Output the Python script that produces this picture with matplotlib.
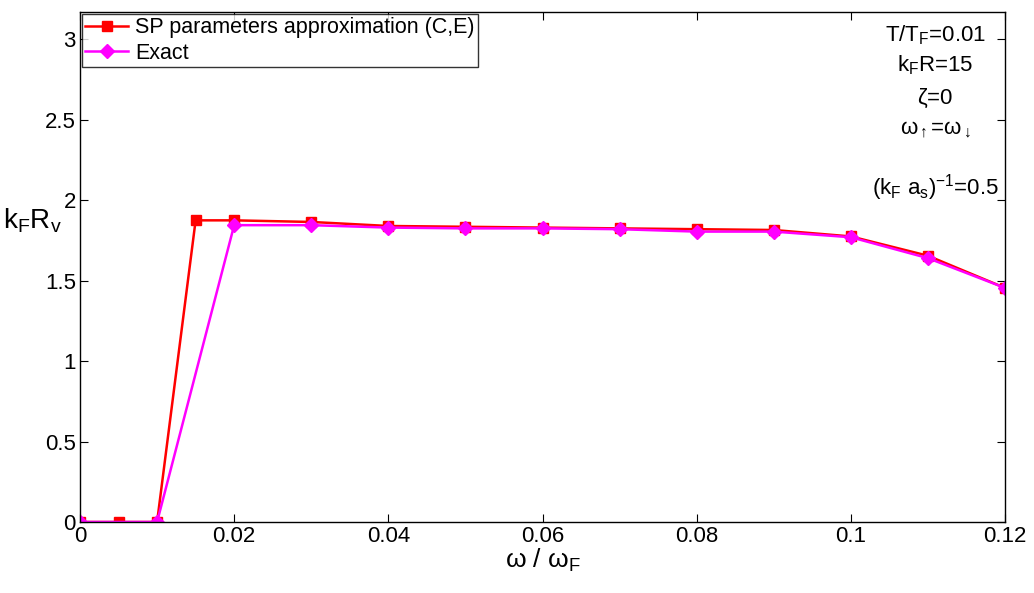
import numpy as np
import matplotlib
matplotlib.use("Agg")
import matplotlib.pyplot as plt

plt.rcParams['font.family'] = ['Liberation Sans', 'DejaVu Sans']
plt.rcParams['mathtext.fontset'] = 'custom'
plt.rcParams['mathtext.rm'] = 'Liberation Sans'
plt.rcParams['mathtext.it'] = 'Liberation Sans'

# ---- data ----
omega_sp = [0, 0.005, 0.01, 0.015, 0.02, 0.03, 0.04, 0.05, 0.06, 0.07, 0.08, 0.09, 0.10, 0.11, 0.12]
kR_sp = [0, 0, 0, 1.875, 1.875, 1.865, 1.84, 1.835, 1.83, 1.825, 1.82, 1.815, 1.775, 1.655, 1.455]

omega_ex = [0, 0.01, 0.02, 0.03, 0.04, 0.05, 0.06, 0.07, 0.08, 0.09, 0.10, 0.11, 0.12]
kR_ex = [0, 0, 1.845, 1.845, 1.83, 1.825, 1.825, 1.82, 1.805, 1.805, 1.77, 1.64, 1.455]

xticks = [0, 0.02, 0.04, 0.06, 0.08, 0.1, 0.12]
xticklabels = ['0', '0.02', '0.04', '0.06', '0.08', '0.1', '0.12']
yticks = [0, 0.5, 1, 1.5, 2, 2.5, 3]
yticklabels = ['0', '0.5', '1', '1.5', '2', '2.5', '3']

fig = plt.figure(figsize=(10.34, 5.93), dpi=100)
ax = fig.add_axes([80 / 1034, 1 - 522 / 593, 925 / 1034, 510 / 593])

ax.plot(omega_sp, kR_sp, color='red', lw=1.8, marker='s', ms=7.5,
        label='SP parameters approximation (C,E)')
ax.plot(omega_ex, kR_ex, color='magenta', lw=1.8, marker='D', ms=7.5,
        label='Exact')

ax.set_xlim(0, 0.12)
ax.set_ylim(0, 3.17)
ax.set_xticks(xticks)
ax.set_xticklabels(xticklabels)
ax.set_yticks(yticks)
ax.set_yticklabels(yticklabels)
ax.tick_params(direction='in', length=6, width=0.8, top=True, right=True,
               labelsize=16, pad=3)
for s in ax.spines.values():
    s.set_linewidth(1.0)

ax.set_xlabel(r'$\omega$ / $\omega_F$', fontsize=19, labelpad=0)
ax.set_ylabel(r'k$_F$R$_v$', fontsize=20, rotation=0, ha='center', va='center')
ax.yaxis.set_label_coords(-0.051, 0.59)

leg = ax.legend(loc='upper left', fontsize=15.5, frameon=True, fancybox=False,
                borderpad=0.15, handlelength=2.0, handletextpad=0.3,
                labelspacing=0.2, borderaxespad=0.1)
leg.get_frame().set_edgecolor('black')
leg.get_frame().set_linewidth(1.0)

notes = [(r'T/T$_F$=0.01', 0.955), (r'k$_F$R=15', 0.895),
         (r'$\zeta$=0', 0.83), (r'$\omega_{\uparrow}$=$\omega_{\downarrow}$', 0.77),
         (r'(k$_F$ a$_s$)$^{-1}$=0.5', 0.655)]
for txt, yy in notes:
    ax.text(0.925, yy, txt, transform=ax.transAxes, ha='center', va='center',
            fontsize=16)

fig.savefig('out.png', dpi=100)
